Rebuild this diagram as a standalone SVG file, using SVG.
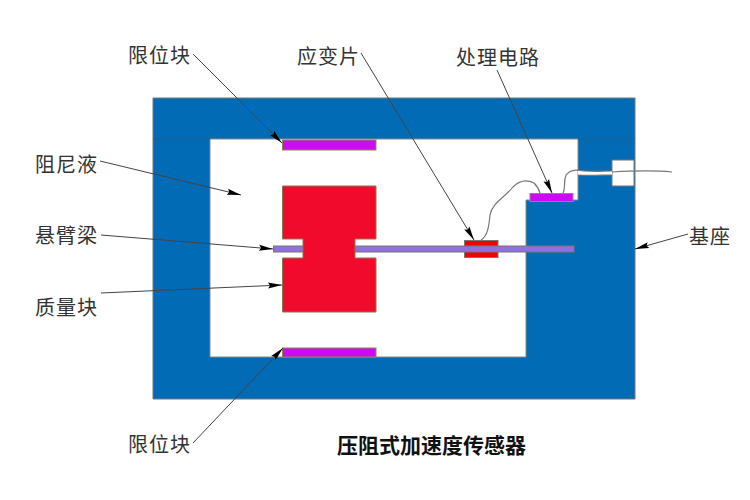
<svg xmlns="http://www.w3.org/2000/svg" width="750" height="500" viewBox="0 0 750 500">
<style>
text{font-family:"Liberation Sans","Noto Sans CJK SC",sans-serif;font-size:20px;letter-spacing:1px;fill:#333}
.t{font-family:"Noto Sans CJK SC",sans-serif;font-size:21px;letter-spacing:0;font-weight:700;fill:#111}
.ld{fill:none;stroke:#444;stroke-width:1;marker-end:url(#a)}
.w{fill:none;stroke:#777;stroke-width:1.2}
.body{fill:#016cb5;stroke:#777;stroke-width:1}
.stop{fill:#cc0cf0;stroke:#8a8a50;stroke-width:1}
.beam{fill:#9070e0;stroke:#777;stroke-width:1}
.red{fill:#f20a2c;stroke:#857a50;stroke-width:1}
</style>
<defs>
<marker id="a" markerUnits="userSpaceOnUse" markerWidth="16" markerHeight="10" refX="15" refY="5" orient="auto">
<path d="M1 2L15 5L1 8L3 5Z" fill="#000"/>
</marker>
</defs>
<rect width="750" height="500" fill="#fff"/>
<g id="base">
<path class="body" d="M153 98H635V399H153Z"/>
<path fill="#fff" stroke="#888" d="M210 139H578V200H526V357H210Z"/>
<path fill="none" stroke="#235f8f" stroke-width="1" d="M153 139H210M578 139H635"/>
<rect x="612" y="160" width="22" height="26" fill="#fff" stroke="#777"/>
<path fill="#fff" d="M578 171L612 171V175L578 175Z"/>
</g>
<g id="stop-top"><rect class="stop" x="282.500" y="140" width="93.500" height="10"/></g>
<g id="stop-bottom"><rect class="stop" x="282.500" y="348" width="93.500" height="9"/></g>
<g id="gauge"><rect x="464.500" y="240.500" width="33.500" height="17" fill="#f40000" stroke="#777"/></g>
<g id="beam">
<rect class="beam" x="273.500" y="246" width="30" height="6"/>
<rect class="beam" x="355" y="246" width="219" height="6"/>
</g>
<g id="mass"><path class="red" d="M282.500 186H376V239H355V258H376V312H282.500V258H303V239H282.500Z"/></g>
<g id="chip"><rect x="530" y="193.500" width="43" height="8" fill="#cc0cf0" stroke="#888"/></g>
<g id="connectors">
<path class="w" d="M481 240C488 236 489 225 490 215C492 203 505 197 513 187C520 180 528 180 534 183C537 186 539 189 540 193"/>
<path class="w" d="M563 193C566 188 563 177 567 174C571 169 577 170 585 171C596 172 604 171 612 171"/>
<path class="w" d="M578 175C590 176 602 175 612 175"/>
<path class="w" d="M612 172C630 171 650 170 672 172"/>
<path class="ld" d="M193 54L282 143"/>
<path class="ld" d="M100 161L241 195"/>
<path class="ld" d="M361 53L474 240"/>
<path class="ld" d="M497 70L552 193"/>
<path class="ld" d="M688 234L635 249"/>
<path class="ld" d="M101 235L273 249"/>
<path class="ld" d="M101 293L282 285"/>
<path class="ld" d="M193 443L283 348"/>
</g>
<g id="labels">
<text x="128" y="63">限位块</text>
<text x="297" y="64">应变片</text>
<text x="456" y="65">处理电路</text>
<text x="35" y="172">阻尼液</text>
<text x="35" y="243">悬臂梁</text>
<text x="35" y="315">质量块</text>
<text x="128" y="452">限位块</text>
<text x="689" y="244">基座</text>
<text class="t" x="337" y="453">压阻式加速度传感器</text>
</g>
</svg>
